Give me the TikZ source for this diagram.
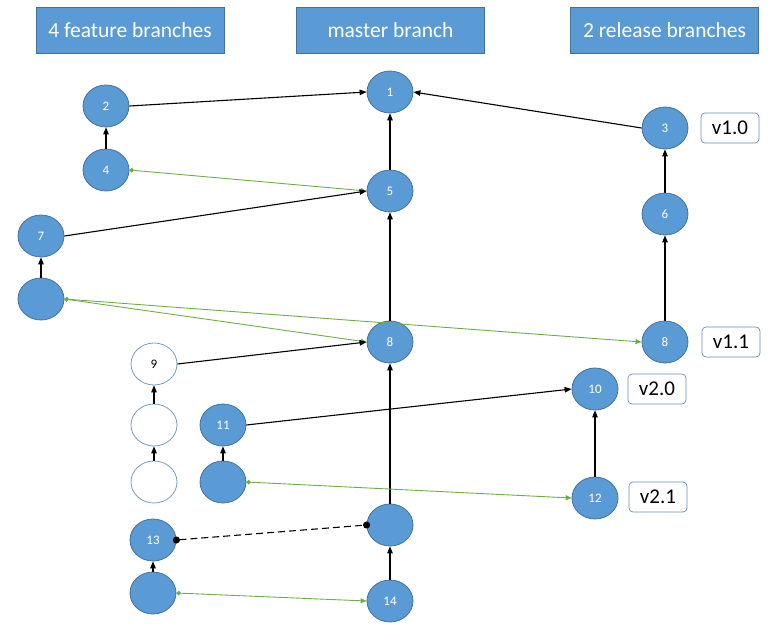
\documentclass[tikz,border=0pt]{standalone}
\usepackage{fontspec}
\setmainfont{Carlito}
\usetikzlibrary{shapes.geometric,arrows.meta}
\definecolor{nodeblue}{HTML}{5B9BD5}
\definecolor{nodeedge}{HTML}{41719C}
\definecolor{mergegreen}{HTML}{70AD47}
\tikzset{
 commit/.style={ellipse, draw=nodeedge, fill=nodeblue, line width=0.8pt, minimum width=46pt, minimum height=42pt, inner sep=0pt, text=white, font=\fontsize{13}{13}\selectfont},
 emptycommit/.style={commit, fill=white, draw=nodeedge!70, text=black},
 header/.style={rectangle, draw=nodeedge, fill=nodeblue, minimum width=188pt, minimum height=46pt, text=white, font=\fontsize{21.5}{21.5}\selectfont, line width=0.8pt},
 tag/.style={rectangle, rounded corners=4pt, draw=nodeedge!80, fill=white, minimum width=58pt, minimum height=30pt, font=\fontsize{21}{21}\selectfont, inner sep=0pt, line width=0.7pt},
 parent/.style={-{Triangle[length=7pt,width=5.5pt]}, line width=1.1pt, black},
 merge/.style={{Circle[length=4.5pt]}-{Triangle[length=6pt,width=5pt]}, line width=0.9pt, mergegreen},
 rebase/.style={{Circle[length=7pt]}-{Circle[length=7pt]}, dash pattern=on 7pt off 4pt, line width=1.1pt, black}
}
\begin{document}
\begin{tikzpicture}[x=1pt,y=-1pt]
\useasboundingbox (0,0) rectangle (771,626);
% headers
\node[header] (hf) at (130,30) {4 feature branches};
\node[header] (hm) at (390.5,30) {master branch};
\node[header] (hr) at (664.5,30) {2 release branches};
% master
\node[commit] (m1) at (390,92) {1};
\node[commit] (m5) at (390,191) {5};
\node[commit] (m8) at (390,342) {8};
\node[commit] (mx) at (390,525) {};
\node[commit] (m14) at (390,601) {14};
% release
\node[commit] (r3) at (665,128) {3};
\node[commit] (r6) at (665,214) {6};
\node[commit] (r8) at (665,342) {8};
\node[commit] (r10) at (595,389) {10};
\node[commit] (r12) at (595,498) {12};
% tags
\node[tag] (t10) at (730,128) {v1.0};
\node[tag] (t11) at (731,342) {v1.1};
\node[tag] (t20) at (657,389) {v2.0};
\node[tag] (t21) at (658,497) {v2.1};
% features
\node[commit] (f2) at (106,106) {2};
\node[commit] (f4) at (106,170) {4};
\node[commit] (f7) at (41,236) {7};
\node[commit] (fa) at (41,299) {};
\node[emptycommit] (f9) at (154,364) {9};
\node[emptycommit] (fw1) at (154,425) {};
\node[emptycommit] (fw2) at (154,482) {};
\node[commit] (f11) at (223,425) {11};
\node[commit] (fb) at (223,482) {};
\node[commit] (f13) at (153,540) {13};
\node[commit] (fc) at (153,593) {};
% parent links
\draw[parent] (m5) -- (m1);
\draw[parent] (m8) -- (m5);
\draw[parent] (mx) -- (m8);
\draw[parent] (m14) -- (mx);
\draw[parent] (r6) -- (r3);
\draw[parent] (r8) -- (r6);
\draw[parent] (r12) -- (r10);
\draw[parent] (f4) -- (f2);
\draw[parent] (fa) -- (f7);
\draw[parent] (fw1) -- (f9);
\draw[parent] (fw2) -- (fw1);
\draw[parent] (fb) -- (f11);
\draw[parent] (fc) -- (f13);
\draw[parent] (f2.east) -- (m1.west);
\draw[parent] (r3.west) -- (m1.east);
% merges
\draw[merge] (f4.east) -- (m5.west);
\draw[merge] (fa.east) -- (m8.west);
\draw[merge] (fa.east) -- (r8.west);
\draw[merge] (fb.east) -- (r12.west);
\draw[merge] (fc.east) -- (m14.west);
\draw[parent] (f7.east) -- (m5.west);
\draw[parent] (f9.east) -- (m8.west);
\draw[parent] (f11.east) -- (r10.west);
% rebase
\draw[rebase, shorten <=-3.5pt, shorten >=-3.5pt] (f13.east) -- (mx.west);
\end{tikzpicture}
\end{document}
